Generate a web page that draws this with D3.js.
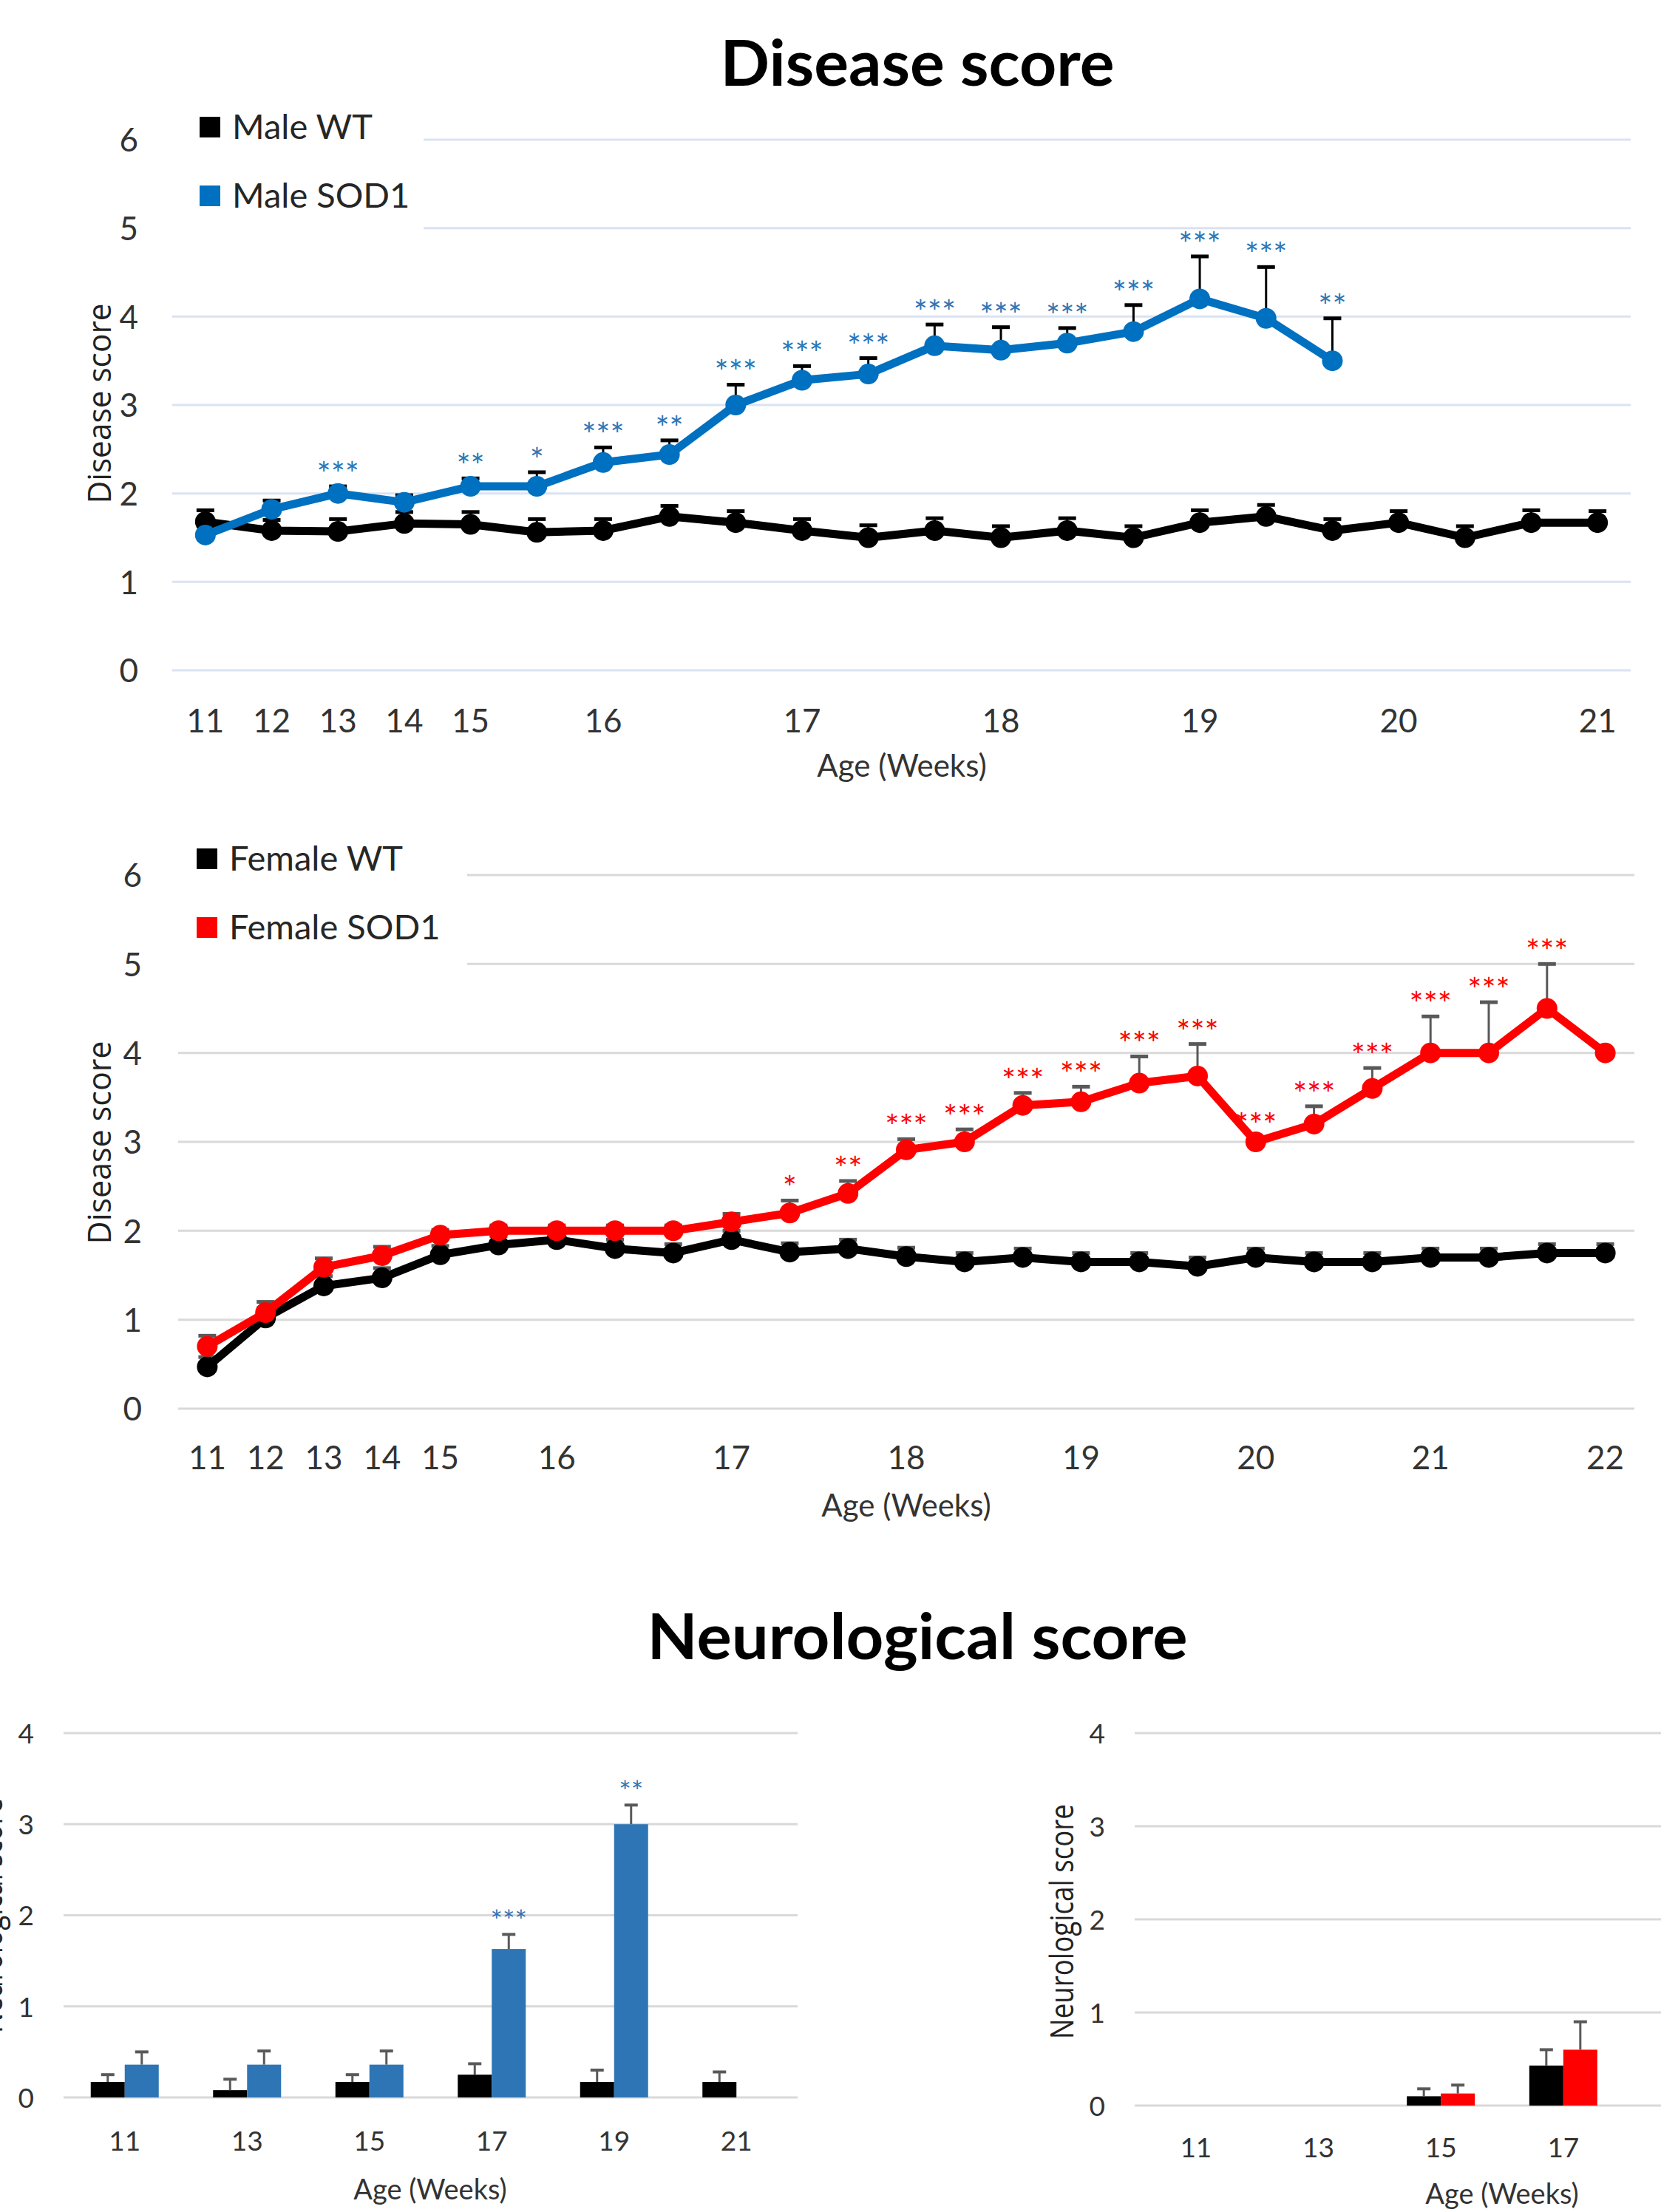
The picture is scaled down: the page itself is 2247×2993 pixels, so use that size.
<!DOCTYPE html>
<html><head><meta charset="utf-8">
<script src="https://cdn.jsdelivr.net/npm/d3@7"></script>
<style>
body{margin:0;background:#fff}
svg{display:block}
text{font-family:Lato,"Open Sans",sans-serif}
</style>
</head><body>
<script>
// ---------------- DATA ----------------
const maleLabels = ["11","12","13","14","15","","16","","","17","","","18","","","19","","","20","","","21"];
const maleWT     = [1.68,1.58,1.57,1.66,1.65,1.56,1.58,1.74,1.67,1.58,1.5,1.58,1.5,1.58,1.5,1.67,1.74,1.58,1.67,1.5,1.67,1.67];
const maleWTErr  = [0.13,0.12,0.14,0.13,0.14,0.15,0.13,0.12,0.13,0.13,0.14,0.14,0.13,0.14,0.13,0.14,0.13,0.13,0.13,0.13,0.14,0.13];
const maleSOD1   = [1.53,1.82,2.0,1.9,2.08,2.08,2.35,2.44,3.0,3.28,3.35,3.67,3.62,3.7,3.83,4.2,3.98,3.5];
const maleSOD1Err= [0.1,0.1,0.08,0.08,0.09,0.16,0.17,0.16,0.23,0.16,0.18,0.24,0.26,0.17,0.3,0.48,0.58,0.48];
const maleSig    = ["","","***","","**","*","***","**","***","***","***","***","***","***","***","***","***","**"];

const femaleLabels = ["11","12","13","14","15","","16","","","17","","","18","","","19","","","20","","","21","","","22"];
const femaleWT     = [0.47,1.02,1.38,1.47,1.73,1.84,1.9,1.8,1.75,1.9,1.76,1.8,1.71,1.65,1.7,1.65,1.65,1.6,1.7,1.65,1.65,1.7,1.7,1.75,1.75];
const femaleWTErr  = [0.11,0.11,0.11,0.11,0.1,0.1,0.1,0.1,0.1,0.1,0.1,0.1,0.1,0.1,0.1,0.1,0.1,0.1,0.1,0.1,0.1,0.1,0.1,0.1,0.1];
const femaleSOD1   = [0.7,1.08,1.59,1.72,1.95,2.0,2.0,2.0,2.0,2.1,2.2,2.42,2.91,3.0,3.41,3.45,3.66,3.74,3.0,3.2,3.6,4.0,4.0,4.5,4.0];
const femaleSOD1Err= [0.12,0.12,0.1,0.1,0.06,0.06,0.06,0.06,0.06,0.09,0.14,0.14,0.12,0.14,0.14,0.17,0.3,0.36,0.05,0.2,0.23,0.41,0.57,0.5,0];
const femaleSig    = ["","","","","","","","","","","*","**","***","***","***","***","***","***","***","***","***","***","***","***",""];

const neuroLabels      = ["11","13","15","17","19","21"];
const maleNeuroWT      = [0.17,0.08,0.17,0.25,0.17,0.17];
const maleNeuroWTErr   = [0.08,0.12,0.08,0.12,0.13,0.11];
const maleNeuroSOD1    = [0.36,0.36,0.36,1.63,3.0,null];
const maleNeuroSOD1Err = [0.14,0.15,0.15,0.16,0.21,null];
const maleNeuroSig     = ["","","","***","**",""];
const femaleNeuroWT      = [0,0,0.1,0.43,null,null];
const femaleNeuroWTErr   = [0,0,0.08,0.17,null,null];
const femaleNeuroSOD1    = [0,0,0.13,0.6,null,null];
const femaleNeuroSOD1Err = [0,0,0.09,0.3,null,null];

const diseaseTicks = [0,1,2,3,4,5,6];
const neuroTicks = [0,1,2,3,4];

// ---------------- SETUP ----------------
const W = 2247, H = 2993;
const svg = d3.select("body").append("svg").attr("width", W).attr("height", H);
const TXT = "#333333";

function rotLabel(text, x, cy, len){
  svg.append("text")
    .attr("transform", `translate(${x},${cy}) rotate(-90)`)
    .attr("text-anchor","middle")
    .style("font-family","'Open Sans',sans-serif")
    .style("font-size","44px").attr("fill","#222")
    .attr("textLength", len).attr("lengthAdjust","spacingAndGlyphs")
    .text(text);
}
function plainText(text, x, y, size, weight, anchor, len){
  const t = svg.append("text").attr("x",x).attr("y",y)
    .attr("text-anchor",anchor||"middle")
    .style("font-size",size+"px").style("font-weight",weight||400)
    .attr("fill", weight===700 ? "#000" : TXT).text(text);
  if(len) t.attr("textLength",len).attr("lengthAdjust","spacingAndGlyphs");
  return t;
}

// ---------------- LINE CHART ----------------
function lineChart(c){
  const g = svg.append("g");
  const x = d3.scaleBand().domain(d3.range(c.labels.length)).range([c.xL, c.xR]);
  const cx = i => x(i) + x.bandwidth()/2;
  const y = d3.scaleLinear().domain([0,6]).range([c.y0, c.y6]);

  g.append("g").selectAll("line").data(diseaseTicks).join("line")
    .attr("x1", d => d >= 5 ? c.shortStart : c.xL).attr("x2", c.xR)
    .attr("y1", d => y(d)).attr("y2", d => y(d))
    .attr("stroke", c.gridColor).attr("stroke-width", 3);

  const ya = g.append("g").attr("transform", `translate(${c.yLabelX},0)`)
    .call(d3.axisLeft(y).tickValues(diseaseTicks).tickSize(0).tickPadding(0).tickFormat(d3.format("d")));
  ya.select(".domain").remove();
  ya.selectAll("text").style("font-family","Lato").style("font-size","44px").attr("fill",TXT).attr("dy","0.36em");

  const xa = g.append("g").attr("transform", `translate(0,${c.y0})`)
    .call(d3.axisBottom(x).tickValues(d3.range(c.labels.length).filter(i => c.labels[i] !== ""))
      .tickSize(0).tickPadding(c.xPad).tickFormat(i => c.labels[i]));
  xa.select(".domain").remove();
  xa.selectAll("text").style("font-family","Lato").style("font-size","44px").attr("fill",TXT);

  const line = d3.line().x((d,i) => cx(i)).y(d => y(d));

  function series(vals, errs, color, errColor, sig, sigColor){
    const eg = g.append("g");
    vals.forEach((v,i) => {
      const e = errs[i]; if(!e) return;
      eg.append("line").attr("x1",cx(i)).attr("x2",cx(i)).attr("y1",y(v)).attr("y2",y(v+e))
        .attr("stroke",errColor).attr("stroke-width",3);
      eg.append("line").attr("x1",cx(i)-12).attr("x2",cx(i)+12).attr("y1",y(v+e)).attr("y2",y(v+e))
        .attr("stroke",errColor).attr("stroke-width",5);
    });
    g.append("path").datum(vals).attr("d", line).attr("fill","none")
      .attr("stroke", color).attr("stroke-width", 11).attr("stroke-linejoin","round");
    g.append("g").selectAll("circle").data(vals).join("circle")
      .attr("cx",(d,i)=>cx(i)).attr("cy",d=>y(d)).attr("r",14).attr("fill",color);
    if(sig){
      g.append("g").selectAll("text").data(vals).join("text")
        .attr("x",(d,i)=>cx(i)).attr("y",(d,i)=>y(d+(errs[i]||0))-1)
        .attr("text-anchor","middle").style("font-size","45px").attr("fill",sigColor)
        .text((d,i)=>sig[i]);
    }
  }
  c.series.forEach(s => series(s.vals, s.errs, s.color, s.errColor, s.sig, s.sigColor));

  const lg = g.append("g");
  c.legend.forEach((L,k) => {
    lg.append("rect").attr("x",c.legX).attr("y",c.legY[k]-14).attr("width",28).attr("height",28).attr("fill",L.color);
    lg.append("text").attr("x",c.legX+44).attr("y",c.legY[k]+16).style("font-size","47px").attr("fill","#262626").text(L.name);
  });
}

lineChart({
  labels: maleLabels, xL:233, xR:2206, y0:907, y6:189, shortStart:573, gridColor:"#DAE3F3",
  yLabelX:187, xPad:53,
  series:[
    {vals:maleWT, errs:maleWTErr, color:"#000000", errColor:"#000000"},
    {vals:maleSOD1, errs:maleSOD1Err, color:"#0070C0", errColor:"#000000", sig:maleSig, sigColor:"#2E75B6"}
  ],
  legX:270, legY:[172,265],
  legend:[{name:"Male WT",color:"#000000"},{name:"Male SOD1",color:"#0070C0"}]
});

lineChart({
  labels: femaleLabels, xL:241, xR:2211, y0:1906, y6:1184, shortStart:632, gridColor:"#D9D9D9",
  yLabelX:192, xPad:51,
  series:[
    {vals:femaleWT, errs:femaleWTErr, color:"#000000", errColor:"#595959"},
    {vals:femaleSOD1, errs:femaleSOD1Err, color:"#FF0000", errColor:"#595959", sig:femaleSig, sigColor:"#FF0000"}
  ],
  legX:266, legY:[1162,1255],
  legend:[{name:"Female WT",color:"#000000"},{name:"Female SOD1",color:"#FF0000"}]
});

// ---------------- BAR CHART ----------------
function barChart(c){
  const g = svg.append("g");
  const x = d3.scaleBand().domain(d3.range(neuroLabels.length)).range([c.xL, c.xR]);
  const x1 = d3.scaleBand().domain([0,1]).range([-46,46]);
  const cx = i => x(i) + x.bandwidth()/2;
  const y = d3.scaleLinear().domain([0,4]).range([c.y0, c.y4]);

  g.append("g").selectAll("line").data(neuroTicks).join("line")
    .attr("x1", c.xL).attr("x2", Math.min(c.xR, W)).attr("y1", d=>y(d)).attr("y2", d=>y(d))
    .attr("stroke","#D9D9D9").attr("stroke-width",3);

  const ya = g.append("g").attr("transform", `translate(${c.yLabelX},0)`)
    .call(d3.axisLeft(y).tickValues(neuroTicks).tickSize(0).tickPadding(0).tickFormat(d3.format("d")));
  ya.select(".domain").remove();
  ya.selectAll("text").style("font-family","Lato").style("font-size","37px").attr("fill",TXT).attr("dy","0.36em");

  // only the categories whose labels fall inside the page
  const visible = d3.range(neuroLabels.length).filter(i => cx(i) + 30 < W);
  const xa = g.append("g").attr("transform", `translate(0,${c.y0})`)
    .call(d3.axisBottom(x).tickValues(visible).tickSize(0).tickPadding(c.xPad).tickFormat(i => neuroLabels[i]));
  xa.select(".domain").remove();
  xa.selectAll("text").style("font-family","Lato").style("font-size","37px").attr("fill",TXT);

  c.series.forEach((s,k) => {
    s.vals.forEach((v,i) => {
      if(v === null || v <= 0) return;
      const bx = cx(i) + x1(k);
      g.append("rect").attr("x",bx).attr("y",y(v)).attr("width",x1.bandwidth()).attr("height",y(0)-y(v)).attr("fill",s.color);
      const e = s.errs[i];
      const mx = bx + x1.bandwidth()/2;
      if(e){
        g.append("line").attr("x1",mx).attr("x2",mx).attr("y1",y(v)).attr("y2",y(v+e)).attr("stroke","#595959").attr("stroke-width",3);
        g.append("line").attr("x1",mx-9).attr("x2",mx+9).attr("y1",y(v+e)).attr("y2",y(v+e)).attr("stroke","#595959").attr("stroke-width",4);
      }
      if(s.sig && s.sig[i]){
        g.append("text").attr("x",mx).attr("y",y(v+(e||0))-4).attr("text-anchor","middle")
          .style("font-size","39px").attr("fill",s.sigColor).text(s.sig[i]);
      }
    });
  });
}

barChart({
  xL:86, xR:1079, y0:2838, y4:2345, yLabelX:46, xPad:46,
  series:[
    {vals:maleNeuroWT, errs:maleNeuroWTErr, color:"#000000"},
    {vals:maleNeuroSOD1, errs:maleNeuroSOD1Err, color:"#2E75B6", sig:maleNeuroSig, sigColor:"#2E75B6"}
  ]
});
barChart({
  xL:1535, xR:2529, y0:2849, y4:2345, yLabelX:1495, xPad:44,
  series:[
    {vals:femaleNeuroWT, errs:femaleNeuroWTErr, color:"#000000"},
    {vals:femaleNeuroSOD1, errs:femaleNeuroSOD1Err, color:"#FF0000"}
  ]
});

// ---------------- TITLES & AXIS TITLES ----------------
plainText("Disease score", 1241, 116, 86, 700, "middle", 533);
plainText("Neurological score", 1241, 2245, 86, 700, "middle", 731);
plainText("Age (Weeks)", 1220, 1051, 42, 400, "middle");
plainText("Age (Weeks)", 1226, 2052, 42, 400, "middle");
plainText("Age (Weeks)", 582, 2976, 38, 400, "middle");
plainText("Age (Weeks)", 2032, 2982, 38, 400, "middle");
rotLabel("Disease score", 150, 546, 271);
rotLabel("Disease score", 150, 1546, 275);
rotLabel("Neurological score", 1452, 2600, 318);
rotLabel("Neurological score", 3, 2592, 318);
</script>
</body></html>
